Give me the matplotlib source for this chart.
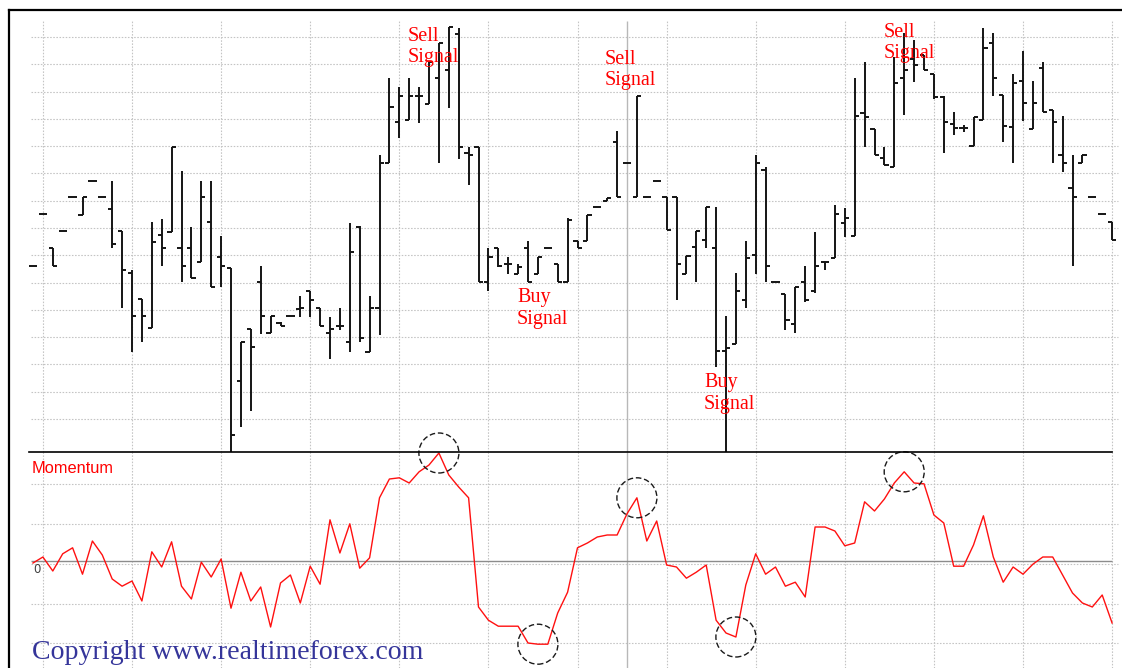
import matplotlib
matplotlib.use("Agg")
import matplotlib.pyplot as plt
from matplotlib.patches import Ellipse
from matplotlib.lines import Line2D
import numpy as np

# ---------------- data (price in grid units, momentum in grid units) ----------------
open_ = [6.61, 8.51, 7.27, 7.89, 9.14, 8.48, 9.72, 9.14, 8.70, 7.89,
         6.35, 5.40, 4.34, 7.74, 7.85, 7.27, 7.27, 6.75, 8.22, 6.94,
         6.53, 2.39, 4.30, 6.02, 4.15, 4.52, 4.78, 5.03, 5.69, 5.07,
         4.15, 4.41, 3.82, 8.04, 3.46, 5.07, 10.38, 11.88, 11.96, 12.84,
         12.54, 13.50, 13.79, 15.11, 10.75, 10.97, 6.02, 7.27, 6.68, 6.31,
         7.27, 6.31, 7.27, 6.68, 6.02, 7.52, 7.52, 8.77, 8.99, 11.15,
         10.38, 9.14, 9.14, 9.72, 9.14, 9.14, 6.31, 7.30, 7.56, 7.27,
         3.49, 3.75, 5.36, 7.01, 10.12, 6.02, 5.58, 4.48, 6.02, 5.69,
         6.75, 6.90, 8.18, 7.71, 12.21, 11.63, 10.56, 10.23, 13.50, 14.19,
         14.34, 13.64, 12.80, 11.81, 11.66, 11.00, 11.96, 14.78, 12.87, 11.70,
         13.39, 11.63, 13.86, 12.32, 10.67, 9.47, 10.38, 9.14, 8.51, 8.22]
high = [6.61, 8.51, 7.27, 7.89, 9.14, 9.14, 9.72, 9.14, 9.72, 7.89,
        6.46, 5.40, 8.22, 8.33, 10.97, 10.09, 8.04, 9.72, 9.72, 7.71,
        6.53, 3.82, 4.30, 6.61, 4.78, 4.56, 4.78, 5.51, 5.69, 5.07,
        4.74, 5.07, 8.18, 8.07, 5.51, 10.67, 13.50, 13.17, 13.50, 13.17,
        14.08, 14.78, 15.37, 15.33, 10.97, 10.97, 7.27, 7.27, 6.94, 6.68,
        7.52, 6.94, 7.27, 6.68, 8.37, 7.52, 8.48, 8.77, 9.10, 11.55,
        10.38, 12.84, 9.14, 9.72, 9.14, 9.14, 6.97, 7.89, 8.77, 8.77,
        4.78, 6.35, 7.52, 10.67, 10.23, 6.02, 5.58, 5.84, 6.61, 7.85,
        6.75, 8.84, 8.73, 13.50, 14.08, 11.63, 10.97, 14.27, 15.14, 14.89,
        14.34, 13.64, 12.84, 12.25, 11.77, 12.07, 15.33, 15.14, 12.87, 13.64,
        14.49, 13.39, 14.08, 12.32, 12.10, 10.67, 10.67, 9.14, 8.51, 8.22]
low = [6.61, 8.51, 6.61, 7.89, 9.14, 8.48, 9.72, 9.14, 7.27, 5.07,
       3.46, 3.82, 4.34, 6.61, 7.85, 6.02, 6.17, 6.75, 5.84, 5.84,
       -0.25, 0.71, 1.29, 4.12, 4.15, 4.41, 4.78, 4.74, 4.74, 4.41,
       3.20, 4.26, 3.46, 3.82, 3.46, 4.08, 10.38, 11.30, 11.96, 11.85,
       12.54, 10.38, 12.40, 10.53, 9.58, 6.02, 5.69, 6.57, 6.31, 6.31,
       6.02, 6.31, 7.27, 6.02, 6.02, 7.27, 7.52, 8.77, 8.99, 9.14,
       10.38, 9.14, 9.14, 9.72, 7.93, 5.36, 6.31, 6.02, 7.27, 2.91,
       -0.25, 3.75, 5.07, 6.31, 6.02, 6.02, 4.26, 4.15, 5.29, 5.62,
       6.46, 6.90, 7.67, 7.71, 10.97, 10.67, 10.31, 10.23, 12.14, 13.35,
       13.79, 12.73, 10.75, 11.41, 11.52, 11.00, 11.96, 12.84, 11.15, 10.38,
       11.92, 11.63, 12.25, 10.38, 10.05, 6.61, 10.38, 9.14, 8.51, 7.56]
close = [6.61, 8.51, 6.61, 7.89, 9.14, 9.14, 9.72, 9.14, 7.41, 6.46,
         4.78, 4.78, 7.49, 7.27, 10.97, 6.61, 6.17, 9.14, 5.84, 6.61,
         0.41, 3.82, 3.64, 4.78, 4.78, 4.41, 4.78, 5.07, 5.36, 4.41,
         4.30, 4.41, 7.12, 3.97, 5.07, 10.38, 12.43, 12.84, 12.84, 12.84,
         14.08, 14.78, 15.37, 10.97, 10.67, 6.02, 6.94, 6.61, 6.68, 6.57,
         6.02, 6.94, 7.27, 6.02, 8.29, 7.27, 8.48, 8.77, 9.10, 9.14,
         10.38, 12.84, 9.14, 9.72, 7.93, 6.68, 6.97, 7.89, 8.77, 3.49,
         3.60, 5.69, 6.90, 10.38, 6.61, 6.02, 4.63, 5.84, 5.36, 6.61,
         6.75, 8.51, 8.37, 12.10, 12.07, 10.67, 10.31, 13.31, 13.79, 13.97,
         13.79, 12.80, 11.88, 11.66, 11.66, 12.07, 14.60, 13.50, 11.74, 13.31,
         12.58, 12.58, 12.25, 11.88, 10.38, 9.14, 10.67, 9.14, 8.51, 7.56]
momentum = [-0.05, 0.10, -0.25, 0.18, 0.33, -0.33, 0.50, 0.15, -0.45, -0.63,
            -0.50, -1.00, 0.23, -0.15, 0.48, -0.63, -0.95, -0.03, -0.40, 0.05,
            -1.18, -0.28, -1.00, -0.65, -1.65, -0.55, -0.35, -1.05, -0.13, -0.58,
            1.03, 0.20, 0.93, -0.18, 0.08, 1.58, 2.05, 2.08, 1.95, 2.23,
            2.40, 2.70, 2.15, 1.85, 1.58, -1.15, -1.48, -1.63, -1.63, -1.63,
            -2.05, -2.08, -2.08, -1.30, -0.78, 0.33, 0.45, 0.60, 0.65, 0.65,
            1.18, 1.58, 0.50, 1.00, -0.10, -0.15, -0.43, -0.28, -0.10, -1.48,
            -1.80, -1.90, -0.60, 0.18, -0.33, -0.15, -0.63, -0.53, -0.90, 0.85,
            0.85, 0.75, 0.38, 0.45, 1.48, 1.25, 1.55, 1.95, 2.23, 1.95,
            1.93, 1.15, 0.95, -0.13, -0.13, 0.40, 1.13, 0.10, -0.53, -0.15,
            -0.33, -0.08, 0.10, 0.10, -0.35, -0.80, -1.05, -1.15, -0.85, -1.55]

price_grid = list(range(1, 16))
mom_grid = [-2.05, -1.075, -0.075, 0.925, 1.925]
vgrid_bars = list(range(1, 110, 9))
cursor_bar = 60
circle_bars = [41, 51, 61, 71, 88]
sell_labels = [(408, 27), (605, 50), (884, 23)]   # pixel anchors (left, top)
buy_labels = [(517, 288), (704, 373)]

# ---------------- figure ----------------
W, H, DPI = 1122, 668, 100
fig = plt.figure(figsize=(W / DPI, H / DPI), dpi=DPI)
fig.patch.set_facecolor('white')


def fx(px):
    return px / W


def fy(py):
    return 1 - py / H


X0_PX, DX_PX = 33.0, 9.9
xlim = ((9 - X0_PX) / DX_PX, (1122 - X0_PX) / DX_PX)
gx0, gx1 = (31 - X0_PX) / DX_PX, (1118 - X0_PX) / DX_PX

GRID_C = '#c4c4c4'
GRID_LS = (0, (1.4, 1.4))

# --- price panel
ax = fig.add_axes([fx(9), fy(452), fx(1122) - fx(9), fy(10) - fy(452)])
ax.set_xlim(*xlim)
ax.set_ylim(-0.21, 15.99)
ax.axis('off')
ax.hlines(price_grid, gx0, gx1, colors=GRID_C, linestyles=GRID_LS, lw=0.8, zorder=1)
ax.vlines(vgrid_bars, -0.21, 15.58, colors=GRID_C, linestyles=GRID_LS, lw=0.8, zorder=1)
ax.vlines([cursor_bar], -0.21, 15.58, colors='#b8b8b8', lw=1.0, zorder=1)

idx = np.arange(len(close))
tick = 0.42
BAR_C = '#141414'
ax.vlines(idx, low, high, colors=BAR_C, lw=1.4, zorder=3)
ax.hlines(open_, idx - tick, idx, colors=BAR_C, lw=1.4, zorder=3)
ax.hlines(close, idx, idx + tick, colors=BAR_C, lw=1.4, zorder=3)

# --- momentum panel
axm = fig.add_axes([fx(9), 0, fx(1122) - fx(9), fy(452)])
axm.set_xlim(*xlim)
axm.set_ylim(-2.675, 2.725)
axm.axis('off')
axm.hlines(mom_grid, gx0, gx1, colors=GRID_C, linestyles=GRID_LS, lw=0.8, zorder=1)
axm.vlines(vgrid_bars, -2.675, 2.725, colors=GRID_C, linestyles=GRID_LS, lw=0.8, zorder=1)
axm.vlines([cursor_bar], -2.675, 2.725, colors='#b8b8b8', lw=1.0, zorder=1)
axm.hlines([0], gx0, idx[-1], colors='#8c8c8c', lw=1.0, zorder=2)
axm.plot(idx, momentum, color='#ff1010', lw=1.0, zorder=4)

for k in circle_bars:
    e = Ellipse((k, momentum[k]), width=40 / DX_PX, height=1.0, fill=False,
                ec='#1a1a1a', lw=1.0, ls=(0, (4, 2)), clip_on=False, zorder=6)
    axm.add_patch(e)

# frame and separator
fig.add_artist(Line2D([fx(9), fx(1122)], [fy(10), fy(10)], color='black', lw=1.6))
fig.add_artist(Line2D([fx(9), fx(9)], [fy(10), 0], color='black', lw=1.6))
fig.add_artist(Line2D([fx(29), fx(1112)], [fy(452), fy(452)], color='black', lw=1.2))

# texts
SERIF = ['Liberation Serif', 'DejaVu Serif']
for (px, py) in sell_labels:
    fig.text(fx(px), fy(py), 'Sell\nSignal', color='#ff0000', family=SERIF,
             fontsize=14.5, va='top', ha='left', linespacing=1.17)
for (px, py) in buy_labels:
    fig.text(fx(px), fy(py), 'Buy\nSignal', color='#ff0000', family=SERIF,
             fontsize=14.5, va='top', ha='left', linespacing=1.22)

fig.text(fx(32), fy(473), 'Momentum', color='#ff0000', family=['Liberation Sans', 'DejaVu Sans'],
         fontsize=11.8, va='baseline', ha='left')
fig.text(fx(33), fy(573), '0', color='#404040', family=['DejaVu Sans'],
         fontsize=8.5, va='baseline', ha='left')
fig.text(fx(32), fy(659), 'Copyright www.realtimeforex.com', color='#35359a', family=SERIF,
         fontsize=20.1, va='baseline', ha='left')

fig.savefig('out.png', dpi=DPI, facecolor='white')
